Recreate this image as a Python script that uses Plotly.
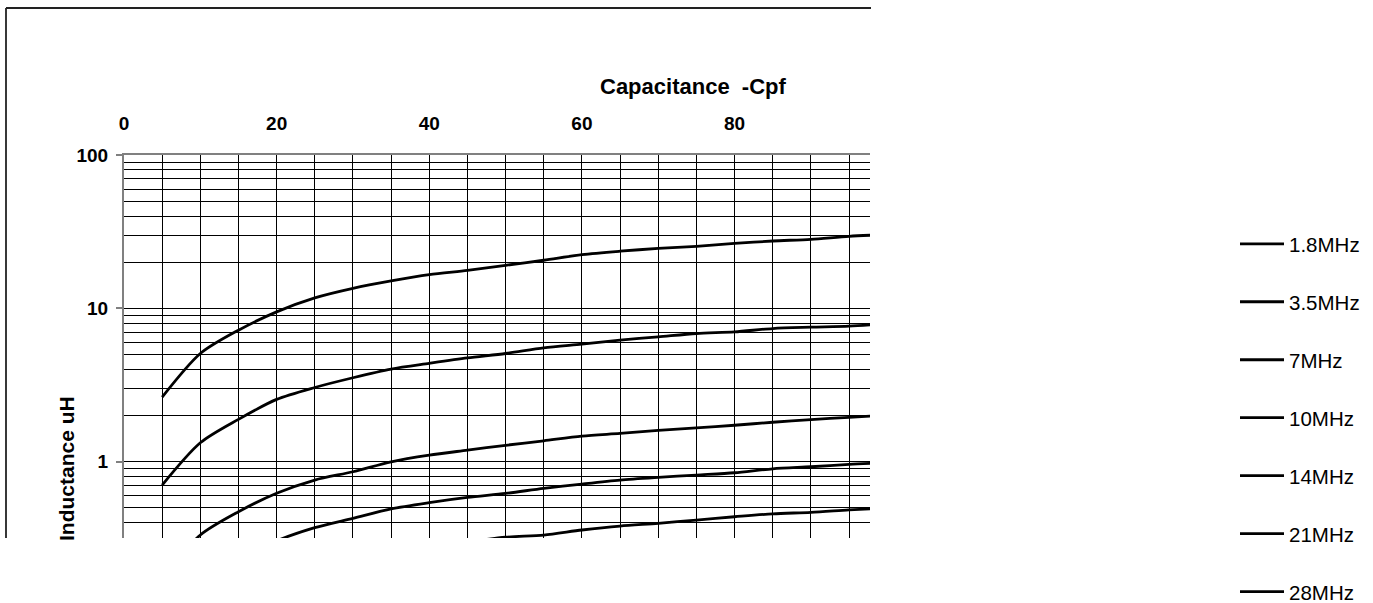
import plotly.graph_objects as go

# Capacitance (pF)
cap = [5, 10, 15, 20, 25, 30, 35, 40, 45, 50, 55, 60, 65, 70, 75, 80, 85, 90, 95, 100]

# Inductance (uH) per band
l_1_8 = [2.64, 5.08, 7.21, 9.49, 11.7, 13.5, 15.1, 16.6, 17.7, 19.1, 20.6, 22.4, 23.6, 24.6, 25.4, 26.5, 27.5, 28.2, 29.5, 30.3]
l_3_5 = [0.705, 1.33, 1.89, 2.55, 3.05, 3.53, 4.02, 4.38, 4.75, 5.08, 5.53, 5.85, 6.21, 6.52, 6.86, 7.03, 7.39, 7.54, 7.66, 7.95]
l_7 = [0.176, 0.333, 0.472, 0.623, 0.760, 0.861, 1.00, 1.105, 1.19, 1.28, 1.37, 1.47, 1.53, 1.60, 1.665, 1.73, 1.81, 1.88, 1.95, 2.01]
l_10 = [0.086, 0.163, 0.231, 0.305, 0.372, 0.428, 0.493, 0.541, 0.585, 0.622, 0.671, 0.716, 0.760, 0.791, 0.819, 0.848, 0.900, 0.928, 0.962, 0.985]
l_14 = [0.044, 0.083, 0.118, 0.156, 0.190, 0.218, 0.254, 0.276, 0.300, 0.322, 0.333, 0.359, 0.381, 0.397, 0.417, 0.438, 0.458, 0.468, 0.485, 0.500]
l_21 = [0.020, 0.037, 0.052, 0.069, 0.084, 0.097, 0.113, 0.123, 0.133, 0.143, 0.148, 0.160, 0.169, 0.176, 0.185, 0.195, 0.205, 0.208, 0.216, 0.222]
l_28 = [0.011, 0.021, 0.029, 0.039, 0.047, 0.054, 0.063, 0.069, 0.075, 0.080, 0.083, 0.090, 0.095, 0.099, 0.104, 0.109, 0.115, 0.117, 0.121, 0.125]

band_names = ["1.8MHz", "3.5MHz", "7MHz", "10MHz", "14MHz", "21MHz", "28MHz"]
band_values = [l_1_8, l_3_5, l_7, l_10, l_14, l_21, l_28]

x_ticks = [0, 20, 40, 60, 80, 100]
x_minor = [5, 10, 15, 25, 30, 35, 45, 50, 55, 65, 70, 75, 85, 90, 95]
y_ticks = [1, 10, 100]
y_minor = [0.4, 0.5, 0.6, 0.7, 0.8, 0.9, 2, 3, 4, 5, 6, 7, 8, 9, 20, 30, 40, 50, 60, 70, 80, 90]

FONT = "Liberation Sans, Arial, sans-serif"
W, H = 1373, 603
L, R, T, B = 124, 870, 155, 538

fig = go.Figure()
for i, (name, vals) in enumerate(zip(band_names, band_values)):
    fig.add_trace(go.Scatter(
        x=cap, y=vals, name=name, mode="lines",
        line=dict(color="#000000", width=2.8, shape="spline", smoothing=0.8),
        legendgroup=f"g{i}",
    ))

pw = R - L
ph = B - T

def px_x(p):
    return (p - L) / pw

def px_y(p):
    return (B - p) / ph

fig.update_layout(
    width=W, height=H,
    margin=dict(l=L, r=W - R, t=T, b=H - B),
    paper_bgcolor="white", plot_bgcolor="white",
    font=dict(family=FONT, color="#000000", size=20),
    showlegend=True,
    legend=dict(
        xref="container", yref="container",
        x=1235 / W, y=1 - 224 / H, xanchor="left", yanchor="top",
        font=dict(family=FONT, size=20.5, color="#000000"),
        tracegroupgap=28.3, bgcolor="rgba(0,0,0,0)", itemwidth=44,
        maxheight=1.0,
    ),
    xaxis=dict(
        side="top", type="linear", range=[0, 97.75],
        tickvals=x_ticks, ticks="", ticklabelstandoff=15,
        tickfont=dict(family=FONT, size=19, weight="bold"),
        showgrid=True, gridcolor="#000000", gridwidth=1,
        minor=dict(tickvals=x_minor, showgrid=True, gridcolor="#000000", gridwidth=1, ticks=""),
        showline=True, linecolor="#808080", linewidth=2,
        zeroline=False, mirror=False,
    ),
    yaxis=dict(
        type="log", range=[-0.497, 2],
        tickvals=y_ticks, ticktext=["1", "10", "100"],
        ticks="outside", ticklen=6, tickcolor="#808080", tickwidth=1.5,
        ticklabelstandoff=4,
        tickfont=dict(family=FONT, size=19, weight="bold"),
        showgrid=True, gridcolor="#000000", gridwidth=1,
        minor=dict(tickvals=y_minor, showgrid=True, gridcolor="#000000", gridwidth=1, ticks=""),
        showline=True, linecolor="#808080", linewidth=2,
        zeroline=False, mirror=False,
    ),
    annotations=[
        dict(text="Capacitance  -Cpf", xref="paper", yref="paper",
             x=px_x(693), y=px_y(86), xanchor="center", yanchor="middle",
             showarrow=False, font=dict(family=FONT, size=22, weight="bold")),
        dict(text="Inductance uH", xref="paper", yref="paper",
             x=px_x(66), y=px_y(469), xanchor="center", yanchor="middle",
             textangle=-90, showarrow=False,
             font=dict(family=FONT, size=21, weight="bold")),
    ],
    shapes=[
        dict(type="line", xref="paper", yref="paper",
             x0=px_x(6), x1=px_x(871), y0=px_y(8), y1=px_y(8),
             line=dict(color="#222222", width=1.8)),
        dict(type="line", xref="paper", yref="paper",
             x0=px_x(6), x1=px_x(6), y0=px_y(8), y1=px_y(538),
             line=dict(color="#222222", width=1.8)),
    ],
)

fig.write_html(
    "out.html",
    config={"displayModeBar": False},
    post_script="document.body.style.margin='0px';document.body.style.overflow='hidden';",
)
